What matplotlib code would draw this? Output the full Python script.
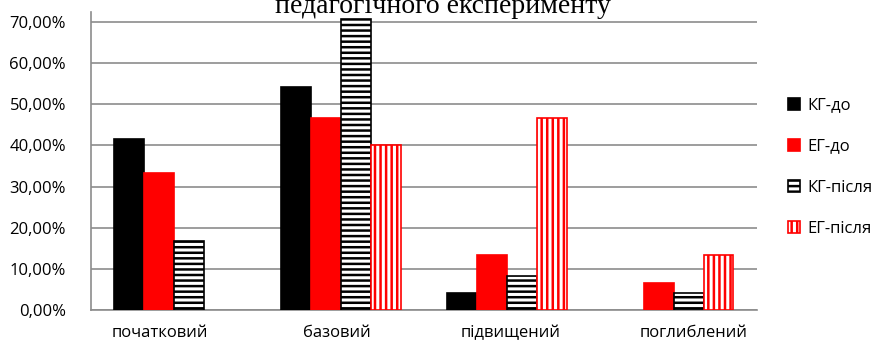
import numpy as np
import matplotlib
matplotlib.use("Agg")
import matplotlib.pyplot as plt
from matplotlib.patches import Patch
from matplotlib.ticker import FuncFormatter

# рівні та частки учнів (%)
levels = ["початковий", "базовий", "підвищений", "поглиблений"]
series_names = ["КГ-до", "ЕГ-до", "КГ-після", "ЕГ-після"]
kg_before = [41.67, 54.17, 4.17, 0.0]
eg_before = [33.33, 46.67, 13.33, 6.67]
kg_after = [16.67, 70.83, 8.33, 4.17]
eg_after = [0.0, 40.00, 46.67, 13.33]

series = [kg_before, eg_before, kg_after, eg_after]
faces = ["black", "#ff0000", "white", "white"]
edges = ["black", "#ff0000", "black", "#ff0000"]
hatches = [None, None, "---", "|||"]

plt.rcParams["font.family"] = ["Open Sans", "DejaVu Sans"]
plt.rcParams["hatch.linewidth"] = 1.8

fig = plt.figure(figsize=(8.8, 3.44), dpi=100)
ax = fig.add_axes([0.1034, 0.0988, 0.7566, 0.866])

x = np.arange(len(levels))
w = 0.18
for i, (vals, fc, ec, h) in enumerate(zip(series, faces, edges, hatches)):
    lw = [1.2 if v > 0 else 0 for v in vals]
    ax.bar(x + (i - 1.5) * w, vals, width=w, color=fc, edgecolor=ec,
           hatch=h, linewidth=lw, zorder=3)

ax.set_xlim(-0.5, len(levels) - 0.5)
ax.set_ylim(0, 72.4)
ax.set_yticks(np.arange(0, 71, 10))
ax.yaxis.set_major_formatter(FuncFormatter(lambda v, p: f"{v:.2f}%".replace(".", ",")))
# підписи категорій в оригіналі трохи зсунуті
ax.set_xticks(x + np.array([-0.085, -0.02, 0.02, 0.12]))
ax.set_xticklabels(levels)
ax.tick_params(axis="both", length=0, labelsize=12)
ax.tick_params(axis="y", pad=18)
ax.tick_params(axis="x", pad=11)
ax.grid(axis="y", color="#8c8c8c", linewidth=1.2, zorder=0)
for s in ["top", "right"]:
    ax.spines[s].set_visible(False)
for s in ["left", "bottom"]:
    ax.spines[s].set_color("#8c8c8c")
    ax.spines[s].set_linewidth(1.2)

handles = [Patch(facecolor=fc, edgecolor=ec, hatch=h, linewidth=1.2)
           for fc, ec, h in zip(faces, edges, hatches)]
ax.legend(handles, series_names, loc="center left", bbox_to_anchor=(1.0465, 0.48),
          frameon=False, fontsize=12, handlelength=0.75, handleheight=0.75,
          handletextpad=0.45, labelspacing=1.5, borderpad=0, borderaxespad=0)

fig.text(0.503, 1 - 13 / 344, "педагогічного експерименту", family="Liberation Serif",
         fontsize=20, ha="center", va="baseline")

fig.savefig("out.png", dpi=100)
